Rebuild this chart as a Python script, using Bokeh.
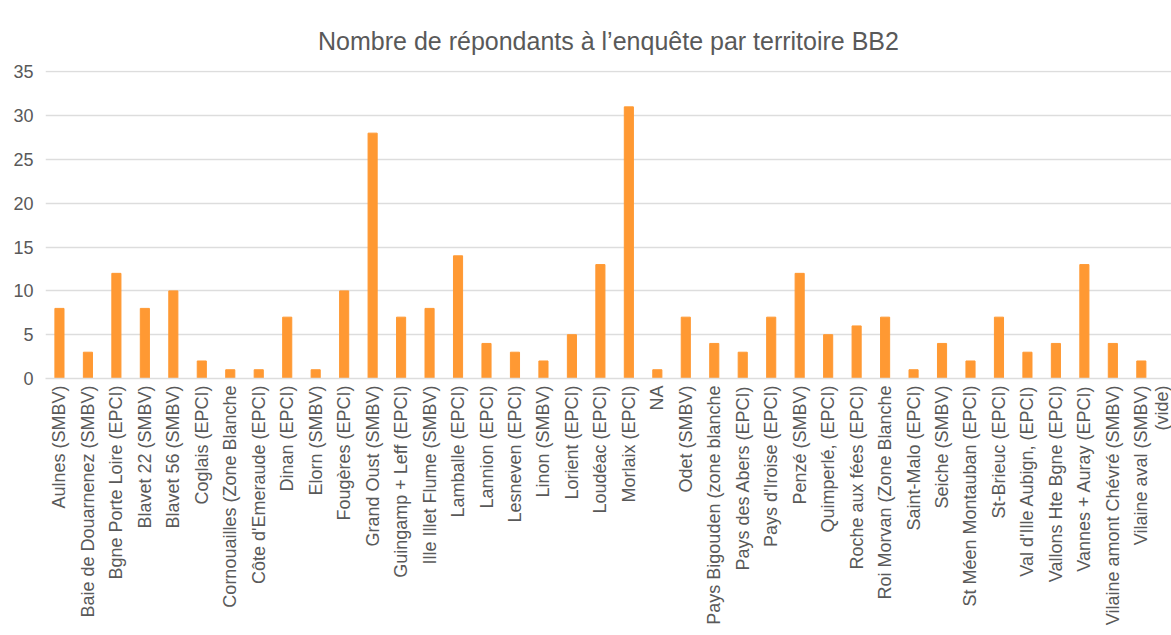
from math import pi
from bokeh.plotting import figure
from bokeh.models import FixedTicker, Range1d
from bokeh.embed import file_html
from bokeh.resources import INLINE

categories = [
    "Aulnes (SMBV)", "Baie de Douarnenez (SMBV)", "Bgne Porte Loire (EPCI)",
    "Blavet 22 (SMBV)", "Blavet 56 (SMBV)", "Coglais (EPCI)",
    "Cornouailles (Zone Blanche", "Côte d'Emeraude (EPCI)", "Dinan (EPCI)",
    "Elorn (SMBV)", "Fougères (EPCI)", "Grand Oust (SMBV)",
    "Guingamp + Leff (EPCI)", "Ille Illet Flume (SMBV)", "Lamballe (EPCI)",
    "Lannion (EPCI)", "Lesneven (EPCI)", "Linon (SMBV)", "Lorient (EPCI)",
    "Loudéac (EPCI)", "Morlaix (EPCI)", "NA", "Odet (SMBV)",
    "Pays Bigouden (zone blanche", "Pays des Abers (EPCI)", "Pays d'Iroise (EPCI)",
    "Penzé (SMBV)", "Quimperlé, (EPCI)", "Roche aux fées (EPCI)",
    "Roi Morvan (Zone Blanche", "Saint-Malo (EPCI)", "Seiche (SMBV)",
    "St Méen Montauban (EPCI)", "St-Brieuc (EPCI)", "Val d'Ille Aubign, (EPCI)",
    "Vallons Hte Bgne (EPCI)", "Vannes + Auray (EPCI)",
    "Vilaine amont Chévré (SMBV)", "Vilaine aval (SMBV)", "(vide)",
]
values = [8, 3, 12, 8, 10, 2, 1, 1, 7, 1, 10, 28, 7, 8, 14, 4, 3, 2, 5, 13,
          31, 1, 7, 4, 3, 7, 12, 5, 6, 7, 1, 4, 2, 7, 3, 4, 13, 4, 2, 0]
y_ticks = [0, 5, 10, 15, 20, 25, 30, 35]

xs = list(range(len(categories)))

p = figure(width=1171, height=635, output_backend="svg", toolbar_location=None,
           x_range=Range1d(-0.49, 39.06), y_range=Range1d(0, 35.15),
           title="Nombre de répondants à l’enquête par territoire BB2")

p.vbar(x=xs, top=values, width=0.32, color="#FF9933")

p.title.align = "center"
p.title.text_font = "Liberation Sans"
p.title.text_font_size = "25px"
p.title.text_font_style = "normal"
p.title.text_color = "#595959"
p.title.standoff = 32

p.outline_line_color = None
p.background_fill_color = "white"
p.border_fill_color = "white"
p.min_border_left = 45
p.min_border_right = 0
p.min_border_top = 70
p.min_border_bottom = 257

p.xgrid.grid_line_color = None
p.ygrid.grid_line_color = "#DDDDDD"
p.ygrid.grid_line_width = 1.5
p.yaxis.ticker = FixedTicker(ticks=y_ticks)
p.yaxis.axis_line_color = None
p.yaxis.major_tick_line_color = None
p.yaxis.major_tick_out = 0
p.yaxis.major_tick_in = 0
p.yaxis.minor_tick_line_color = None
p.yaxis.minor_tick_out = 0
p.yaxis.minor_tick_in = 0
p.yaxis.major_label_text_font = "Liberation Sans"
p.yaxis.major_label_text_font_size = "18px"
p.yaxis.major_label_text_color = "#595959"
p.yaxis.major_label_standoff = 12

p.xaxis.ticker = FixedTicker(ticks=xs)
p.xaxis.major_label_overrides = {i: c for i, c in zip(xs, categories)}
p.xaxis.major_label_orientation = pi / 2
p.xaxis.axis_line_color = "#DDDDDD"
p.xaxis.axis_line_width = 1.5
p.xaxis.major_tick_line_color = None
p.xaxis.major_tick_out = 0
p.xaxis.major_tick_in = 0
p.xaxis.minor_tick_line_color = None
p.xaxis.minor_tick_out = 0
p.xaxis.minor_tick_in = 0
p.xaxis.major_label_text_font = "Liberation Sans"
p.xaxis.major_label_text_font_size = "18px"
p.xaxis.major_label_text_color = "#595959"
p.xaxis.major_label_standoff = 7

open("out.html", "w").write(file_html(p, INLINE))
